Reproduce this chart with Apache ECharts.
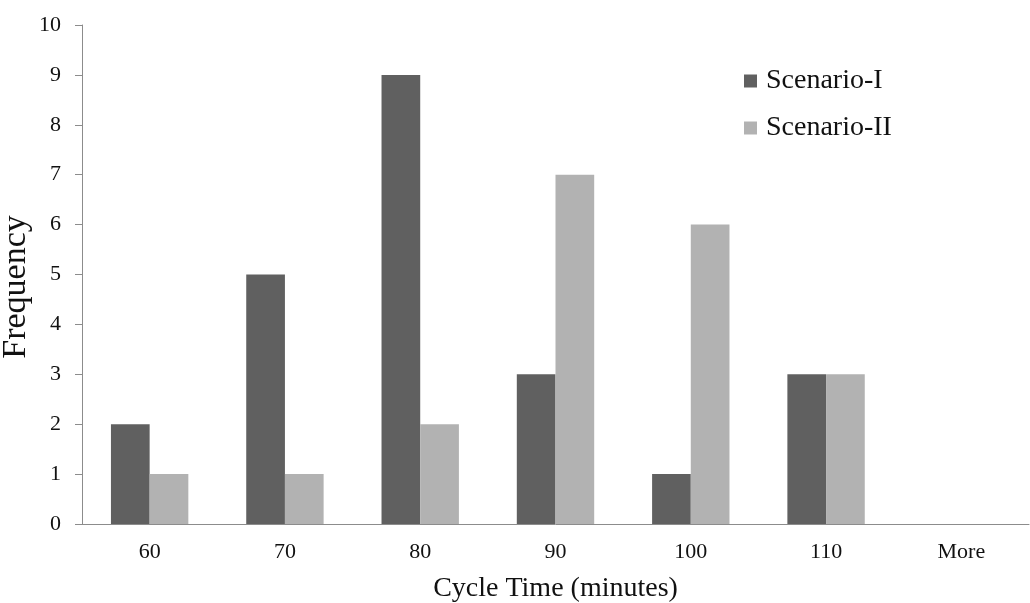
<!DOCTYPE html>
<html>
<head>
<meta charset="utf-8">
<script src="https://cdn.jsdelivr.net/npm/echarts@6/dist/echarts.min.js"></script>
<style>html,body{margin:0;padding:0;background:#fff;}#c{width:1030px;height:603px;}</style>
</head>
<body>
<div id="c"></div>
<script>
const categories = ['60', '70', '80', '90', '100', '110', 'More'];
const scenarioI = [2, 5, 9, 3, 1, 3, 0];
const scenarioII = [1, 1, 2, 7, 6, 3, 0];
const seriesNames = ['Scenario-I', 'Scenario-II'];
const xTitle = 'Cycle Time (minutes)';
const yTitle = 'Frequency';

const font = '"Liberation Serif", "Times New Roman", serif';
const chart = echarts.init(document.getElementById('c'));
chart.setOption({
  animation: false,
  backgroundColor: '#ffffff',
  textStyle: { fontFamily: font },
  grid: { left: 82, right: 1, top: 25, bottom: 79, containLabel: false, outerBoundsMode: 'none' },
  legend: {
    orient: 'vertical',
    left: 739,
    top: 62,
    itemWidth: 13,
    itemHeight: 13,
    itemGap: 19,
    icon: 'rect',
    textStyle: { fontFamily: font, fontSize: 28, color: '#111111', padding: [0, 0, 0, 4] },
    data: seriesNames
  },
  xAxis: {
    type: 'category',
    data: categories,
    name: xTitle,
    nameLocation: 'middle',
    nameGap: 51,
    nameTextStyle: { fontFamily: font, fontSize: 28, color: '#111111', verticalAlign: 'top' },
    axisLine: { lineStyle: { color: '#8c8c8c', width: 1 } },
    axisTick: { show: false },
    axisLabel: { fontFamily: font, fontSize: 22, color: '#111111', margin: 17 },
    splitLine: { show: false }
  },
  yAxis: {
    type: 'value',
    min: 0,
    max: 10,
    interval: 1,
    axisLine: { show: true, lineStyle: { color: '#8c8c8c', width: 1 } },
    axisTick: { show: true, length: 7, lineStyle: { color: '#8c8c8c' } },
    axisLabel: { fontFamily: font, fontSize: 22, color: '#111111', margin: 21 },
    splitLine: { show: false }
  },
  graphic: [{
    type: 'text',
    x: 16,
    y: 287,
    rotation: Math.PI / 2,
    style: {
      text: yTitle,
      font: '34px ' + font,
      fill: '#111111',
      align: 'center',
      verticalAlign: 'middle'
    }
  }],
  series: [
    {
      name: seriesNames[0],
      type: 'bar',
      data: scenarioI,
      barGap: '0%',
      barCategoryGap: '42.8%',
      itemStyle: { color: '#606060' }
    },
    {
      name: seriesNames[1],
      type: 'bar',
      data: scenarioII,
      barGap: '0%',
      barCategoryGap: '42.8%',
      itemStyle: { color: '#b2b2b2' }
    }
  ]
});
</script>
</body>
</html>
